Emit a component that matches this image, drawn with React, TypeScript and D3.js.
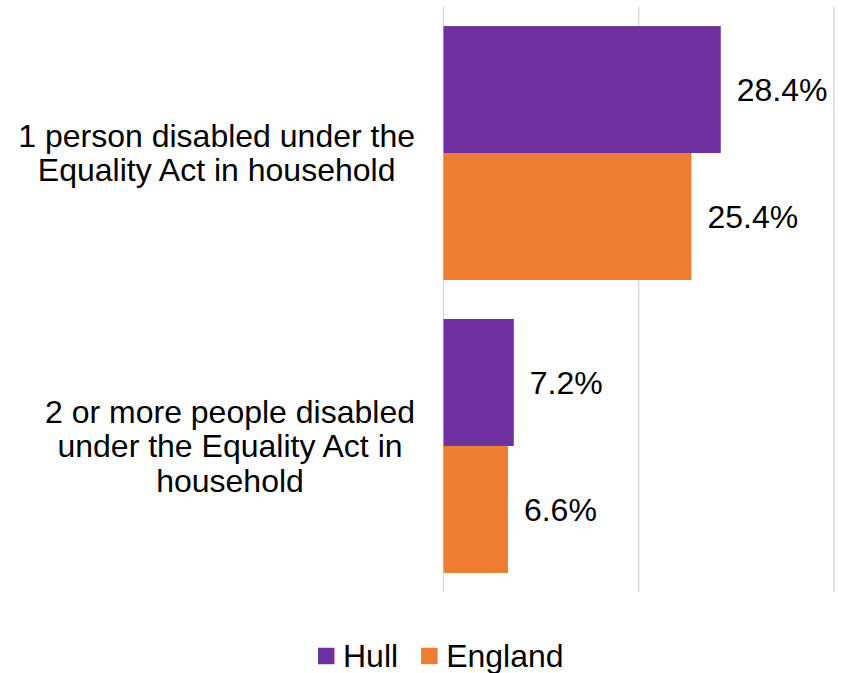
import React from "react";
import * as d3 from "d3";

const categories = [
  ["1 person disabled under the", "Equality Act in household"],
  ["2 or more people disabled", "under the Equality Act in", "household"],
];
const categoryKeys = ["one", "twoPlus"];
const seriesNames = ["Hull", "England"];
const hullValues = [28.4, 7.2];
const englandValues = [25.4, 6.6];
const gridTicks = [0, 20, 40];
const colors = ["#7030A0", "#ED7D31"];

const W = 852;
const H = 673;
const FONT = "'Liberation Sans', Arial, sans-serif";
const FS = 32;

function measure(text: string): number {
  if (typeof document === "undefined") return text.length * FS * 0.5;
  const c = (measure as any)._c || ((measure as any)._c = document.createElement("canvas"));
  const ctx = c.getContext("2d");
  ctx.font = `${FS}px ${FONT}`;
  return ctx.measureText(text).width;
}

export default function App() {
  const x = d3.scaleLinear().domain([0, 40]).range([443.5, 834]);
  const y = d3
    .scaleBand<string>()
    .domain(categoryKeys)
    .range([7, 592])
    .paddingInner(0.133)
    .paddingOuter(0.065);
  const ys = d3.scaleBand<string>().domain(seriesNames).range([0, y.bandwidth()]);
  const values = [hullValues, englandValues];

  const labelRight = 415;
  const lineH = 34.5;

  const legendX0 = 318;
  const sq = 16.5;
  const legendY = 656;
  let lx = legendX0;
  const legendItems = seriesNames.map((name, i) => {
    const item = { name, x: lx, color: colors[i] };
    lx += sq + 8.5 + measure(name) + 23;
    return item;
  });

  return (
    <svg
      width={W}
      height={H}
      style={{ position: "absolute", left: 0, top: 0, background: "#fff" }}
      fontFamily={FONT}
    >
      {gridTicks.map((t) => (
        <line
          key={t}
          x1={x(t)}
          x2={x(t)}
          y1={7}
          y2={592}
          stroke="#D9D9D9"
          strokeWidth={1.5}
        />
      ))}
      {categoryKeys.map((k, ci) => {
        const y0 = y(k)!;
        const lines = categories[ci];
        const maxW = Math.max(...lines.map(measure));
        const cx = labelRight - maxW / 2;
        const cy = y0 + y.bandwidth() / 2;
        return (
          <g key={k}>
            {seriesNames.map((s, si) => {
              const v = values[si][ci];
              const by = y0 + ys(s)!;
              return (
                <g key={s}>
                  <rect
                    x={x(0)}
                    y={by}
                    width={x(v) - x(0)}
                    height={ys.bandwidth()}
                    fill={colors[si]}
                  />
                  <text
                    x={x(v) + 16}
                    y={by + ys.bandwidth() / 2}
                    dy="0.35em"
                    fontSize={FS}
                    fill="#000"
                  >
                    {v.toFixed(1)}%
                  </text>
                </g>
              );
            })}
            {lines.map((ln, li) => (
              <text
                key={li}
                x={cx}
                y={cy + (li - (lines.length - 1) / 2) * lineH}
                dy="0.35em"
                textAnchor="middle"
                fontSize={FS}
                fill="#000"
              >
                {ln}
              </text>
            ))}
          </g>
        );
      })}
      {legendItems.map((it) => (
        <g key={it.name}>
          <rect x={it.x} y={legendY - sq / 2} width={sq} height={sq} fill={it.color} />
          <text
            x={it.x + sq + 8.5}
            y={legendY}
            dy="0.35em"
            fontSize={FS}
            fill="#000"
          >
            {it.name}
          </text>
        </g>
      ))}
    </svg>
  );
}
